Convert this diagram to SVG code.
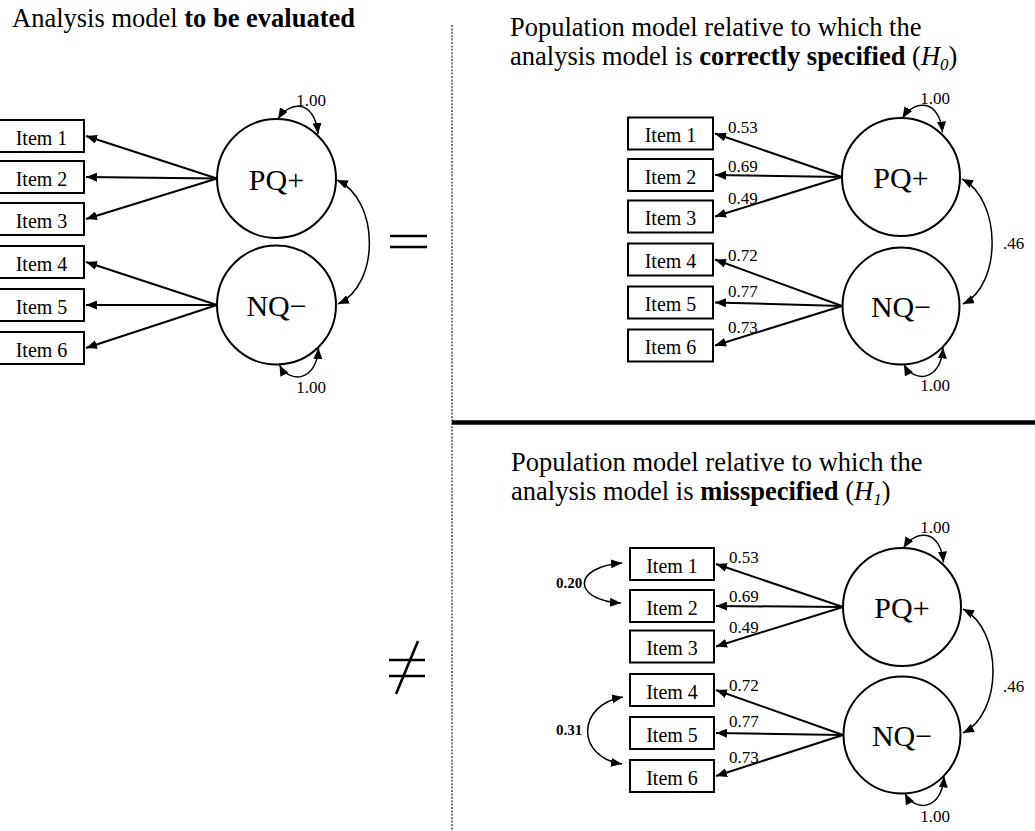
<svg xmlns="http://www.w3.org/2000/svg" width="1035" height="831" viewBox="0 0 1035 831">
<defs>
<marker id="ah" viewBox="0 0 11 9" refX="11" refY="4.5" markerWidth="11" markerHeight="9" markerUnits="userSpaceOnUse" orient="auto-start-reverse"><path d="M0,0 L11,4.5 L0,9 z" fill="#000"/></marker>
<style>
text{font-family:"Liberation Serif","Times New Roman",serif;fill:#000}
.title{font-size:26.5px}
.item rect{fill:#fff;stroke:#000;stroke-width:2}
.item text{font-size:20px;text-anchor:middle}
.lat circle{fill:#fff;stroke:#000;stroke-width:2}
.lat text{font-size:30px;text-anchor:middle}
.ld{stroke:#000;stroke-width:2;fill:none;marker-end:url(#ah)}
.arc{stroke:#000;stroke-width:1.5;fill:none;marker-start:url(#ah);marker-end:url(#ah)}
.num{font-size:17px}
.numc{font-size:17px;text-anchor:middle}
.bnum{font-size:15px;font-weight:bold}
.sym{stroke:#000;stroke-width:2.6}
</style>
</defs>
<rect width="1035" height="831" fill="#fff"/>

<!-- separators -->
<g id="separators">
<line x1="452" y1="25" x2="452" y2="831" stroke="#777" stroke-width="2" stroke-dasharray="2 1.4"/>
<line x1="452" y1="422.5" x2="1035" y2="422.5" stroke="#000" stroke-width="4.5"/>
</g>

<!-- titles -->
<g id="titles">
<text class="title" x="12" y="27">Analysis model <tspan font-weight="bold">to be evaluated</tspan></text>
<text class="title" x="510" y="36">Population model relative to which the</text>
<text class="title" x="510" y="65">analysis model is <tspan font-weight="bold">correctly specified</tspan> (<tspan font-style="italic">H</tspan><tspan font-style="italic" font-size="17" dy="5">0</tspan><tspan dy="-5">)</tspan></text>
<text class="title" x="511" y="471">Population model relative to which the</text>
<text class="title" x="511" y="500">analysis model is <tspan font-weight="bold">misspecified</tspan> (<tspan font-style="italic">H</tspan><tspan font-style="italic" font-size="17" dy="5">1</tspan><tspan dy="-5">)</tspan></text>
</g>

<!-- symbols -->
<g id="equals">
<line class="sym" x1="390" y1="236" x2="427" y2="236"/>
<line class="sym" x1="390" y1="247" x2="427" y2="247"/>
</g>
<g id="notequals">
<line class="sym" x1="389" y1="660" x2="425" y2="660"/>
<line class="sym" x1="389" y1="676" x2="425" y2="676"/>
<line class="sym" x1="396" y1="694" x2="418" y2="641"/>
</g>

<!-- connectors -->
<g id="connectors">
<!-- left panel loadings -->
<line class="ld" x1="217" y1="178.5" x2="86" y2="136"/>
<line class="ld" x1="217" y1="178.5" x2="86" y2="177"/>
<line class="ld" x1="217" y1="178.5" x2="86" y2="219"/>
<line class="ld" x1="217" y1="305" x2="86" y2="262"/>
<line class="ld" x1="217" y1="305" x2="86" y2="305"/>
<line class="ld" x1="217" y1="305" x2="86" y2="348"/>
<path class="arc" d="M278,119 C290,100 315,100 318,134"/>
<path class="arc" d="M279.5,365 C288.5,383 316.5,383 318.5,348"/>
<path class="arc" d="M337,180 C380,200 380,285 338,304"/>

<!-- top right loadings -->
<line class="ld" x1="842" y1="177" x2="715" y2="133.5"/>
<line class="ld" x1="842" y1="177" x2="715" y2="175"/>
<line class="ld" x1="842" y1="177" x2="715" y2="216.5"/>
<line class="ld" x1="842" y1="306" x2="715" y2="259.5"/>
<line class="ld" x1="842" y1="306" x2="715" y2="302.5"/>
<line class="ld" x1="842" y1="306" x2="715" y2="345.5"/>
<path class="arc" d="M902.5,118 C914.5,99 939.5,99 942.5,132.5"/>
<path class="arc" d="M904,364.5 C913,382.5 941,382.5 943,347.5"/>
<path class="arc" d="M962,179 C1002,200 1002,285 963,304"/>

<!-- bottom right loadings -->
<line class="ld" x1="843" y1="607" x2="716" y2="564"/>
<line class="ld" x1="843" y1="607" x2="716" y2="606"/>
<line class="ld" x1="843" y1="607" x2="716" y2="646.5"/>
<line class="ld" x1="843" y1="735" x2="716" y2="690"/>
<line class="ld" x1="843" y1="735" x2="716" y2="733"/>
<line class="ld" x1="843" y1="735" x2="716" y2="776"/>
<path class="arc" d="M903.5,548 C915.5,529 940.5,529 943.5,562.5"/>
<path class="arc" d="M905,793.5 C914,811.5 942,811.5 944,776.5"/>
<path class="arc" d="M963,609 C1003,630 1003,713 963,733"/>
<path class="arc" d="M622,563 C572,567 572,600 621,603"/>
<path class="arc" d="M623,697 C576,705 576,757 622,764"/>
</g>

<!-- connector labels -->
<g id="labels">
<text class="numc" x="311" y="106">1.00</text>
<text class="numc" x="311" y="393">1.00</text>
<text class="numc" x="935" y="104">1.00</text>
<text class="numc" x="935" y="391">1.00</text>
<text class="num" x="1003" y="249">.46</text>
<text class="num" x="728" y="133">0.53</text>
<text class="num" x="728" y="172">0.69</text>
<text class="num" x="728" y="204">0.49</text>
<text class="num" x="728" y="261">0.72</text>
<text class="num" x="728" y="297">0.77</text>
<text class="num" x="728" y="333">0.73</text>
<text class="numc" x="935" y="533">1.00</text>
<text class="numc" x="935" y="822">1.00</text>
<text class="num" x="1003" y="692">.46</text>
<text class="num" x="729" y="563">0.53</text>
<text class="num" x="729" y="602">0.69</text>
<text class="num" x="729" y="633">0.49</text>
<text class="num" x="729" y="691">0.72</text>
<text class="num" x="729" y="727">0.77</text>
<text class="num" x="729" y="763">0.73</text>
<text class="bnum" x="556" y="588">0.20</text>
<text class="bnum" x="556" y="735">0.31</text>
</g>

<!-- left panel nodes -->
<g id="L_item1" class="item"><rect x="-1" y="120" width="85" height="32"/><text x="41.5" y="144.5">Item 1</text></g>
<g id="L_item2" class="item"><rect x="-1" y="161" width="85" height="32"/><text x="41.5" y="185.5">Item 2</text></g>
<g id="L_item3" class="item"><rect x="-1" y="203" width="85" height="32"/><text x="41.5" y="227.5">Item 3</text></g>
<g id="L_item4" class="item"><rect x="-1" y="246" width="85" height="32"/><text x="41.5" y="270.5">Item 4</text></g>
<g id="L_item5" class="item"><rect x="-1" y="289" width="85" height="32"/><text x="41.5" y="313.5">Item 5</text></g>
<g id="L_item6" class="item"><rect x="-1" y="332" width="85" height="32"/><text x="41.5" y="356.5">Item 6</text></g>
<g id="L_PQ" class="lat"><circle cx="276.5" cy="178.5" r="59.5"/><text x="276.5" y="189.5">PQ+</text></g>
<g id="L_NQ" class="lat"><circle cx="276.5" cy="305" r="59.5"/><text x="276.5" y="316">NQ−</text></g>

<!-- top right nodes -->
<g id="H0_item1" class="item"><rect x="628" y="117.5" width="85" height="32"/><text x="670.5" y="142">Item 1</text></g>
<g id="H0_item2" class="item"><rect x="628" y="159" width="85" height="32"/><text x="670.5" y="183.5">Item 2</text></g>
<g id="H0_item3" class="item"><rect x="628" y="200.5" width="85" height="32"/><text x="670.5" y="225">Item 3</text></g>
<g id="H0_item4" class="item"><rect x="628" y="243.5" width="85" height="32"/><text x="670.5" y="268">Item 4</text></g>
<g id="H0_item5" class="item"><rect x="628" y="286.5" width="85" height="32"/><text x="670.5" y="311">Item 5</text></g>
<g id="H0_item6" class="item"><rect x="628" y="329.5" width="85" height="32"/><text x="670.5" y="354">Item 6</text></g>
<g id="H0_PQ" class="lat"><circle cx="901" cy="177" r="59"/><text x="901" y="188">PQ+</text></g>
<g id="H0_NQ" class="lat"><circle cx="901" cy="306" r="58.5"/><text x="901" y="317">NQ−</text></g>

<!-- bottom right nodes -->
<g id="H1_item1" class="item"><rect x="630" y="548" width="84" height="32"/><text x="672" y="572.5">Item 1</text></g>
<g id="H1_item2" class="item"><rect x="630" y="590" width="84" height="32"/><text x="672" y="614.5">Item 2</text></g>
<g id="H1_item3" class="item"><rect x="630" y="630.5" width="84" height="32"/><text x="672" y="655">Item 3</text></g>
<g id="H1_item4" class="item"><rect x="630" y="674" width="84" height="32"/><text x="672" y="698.5">Item 4</text></g>
<g id="H1_item5" class="item"><rect x="630" y="717" width="84" height="32"/><text x="672" y="741.5">Item 5</text></g>
<g id="H1_item6" class="item"><rect x="630" y="760" width="84" height="32"/><text x="672" y="784.5">Item 6</text></g>
<g id="H1_PQ" class="lat"><circle cx="902" cy="607" r="59"/><text x="902" y="618">PQ+</text></g>
<g id="H1_NQ" class="lat"><circle cx="902" cy="735" r="58.5"/><text x="902" y="746">NQ−</text></g>
</svg>
